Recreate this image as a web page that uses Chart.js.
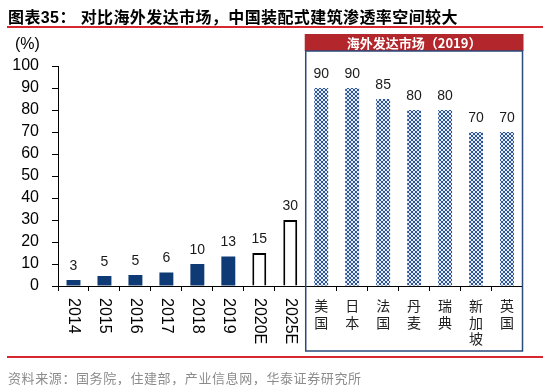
<!DOCTYPE html>
<html>
<head>
<meta charset="utf-8">
<title>海外发达市场对比</title>
<script src="https://cdn.jsdelivr.net/npm/chart.js@4.4.0/dist/chart.umd.min.js"></script>
<style>
  body { margin: 0; background: #fff; }
  #wrap { position: relative; width: 550px; height: 391px; overflow: hidden; }
  canvas { position: absolute; left: 0; top: 0; }
  #title { position: absolute; left: 8px; top: 4px; font: bold 16px "Liberation Sans", Arial, "Noto Sans CJK SC"; color: #000; white-space: nowrap; letter-spacing: 0.4px; }
  .redline { position: absolute; left: 7px; width: 536px; height: 2px; background: #d7282f; }
  #unit { position: absolute; left: 15px; top: 35px; font: 16px "Liberation Sans", Arial; color: #000; }
  #source { position: absolute; left: 8px; top: 368px; font: 13px "Noto Sans CJK SC"; color: #8c8c8c; letter-spacing: 0.6px; white-space: nowrap; }
</style>
</head>
<body>
<div id="wrap">
  <canvas id="canvas" width="550" height="391"></canvas>
  <div id="title">图表35：&nbsp;对比海外发达市场，中国装配式建筑渗透率空间较大</div>
  <div class="redline" style="top:26px"></div>
  <div id="unit">(%)</div>
  <div class="redline" style="top:356px"></div>
  <div id="source">资料来源：国务院，住建部，产业信息网，华泰证券研究所</div>
</div>

<script>
  // China: actual + forecast
  const years = ['2014', '2015', '2016', '2017', '2018', '2019', '2020E', '2025E'];
  const yearValues = [2.7, 4.6, 5, 6.1, 10, 13.4, 15, 30];
  const yearLabels = [3, 5, 5, 6, 10, 13, 15, 30];
  const actualCount = 6; // solid bars, rest are forecasts

  // overseas markets (2019)
  const countries = ['美国', '日本', '法国', '丹麦', '瑞典', '新加坡', '英国'];
  const countryValues = [90, 90, 85, 80, 80, 70, 70];

  const yMax = 100;
  const yStep = 10;

  const navy = '#0e3a75';

  // small blue cross-hatch tile for the overseas bars
  function makePattern() {
    const c = document.createElement('canvas');
    c.width = 4; c.height = 4;
    const g = c.getContext('2d');
    g.fillStyle = '#e4ebf6';
    g.fillRect(0, 0, 4, 4);
    g.fillStyle = '#2d5699';
    [[0, 0], [1, 1], [2, 2], [3, 3], [3, 0], [2, 1], [1, 2], [0, 3]].forEach(function (p) {
      g.fillRect(p[0], p[1], 1, 1);
    });
    return g.createPattern(c, 'repeat');
  }
  const hatch = makePattern();

  const labels = years.concat(countries);
  const values = yearValues.concat(countryValues);
  const shown = yearLabels.concat(countryValues);

  const fills = years.map((y, i) => i < actualCount ? navy : '#ffffff')
    .concat(countries.map(() => hatch));
  const borders = years.map((y, i) => i < actualCount ? navy : '#000000')
    .concat(countries.map(() => 'rgba(0,0,0,0)'));
  const borderWidths = years.map((y, i) => i < actualCount ? 0 : 2)
    .concat(countries.map(() => 0));

  // framed panel for the overseas markets
  const panel = {
    id: 'panel',
    beforeDatasetsDraw(chart) {
      const ctx = chart.ctx, x = chart.scales.x;
      const left = (x.getPixelForValue(years.length - 1) + x.getPixelForValue(years.length)) / 2;
      const right = chart.chartArea.right;
      ctx.save();
      ctx.fillStyle = '#b3262b';
      ctx.fillRect(left - 1, 34, right - left + 2, 17);
      ctx.strokeStyle = '#2b4a7c';
      ctx.lineWidth = 1.5;
      ctx.strokeRect(left, 51, right - left, 300);
      ctx.fillStyle = '#fff';
      ctx.font = 'bold 13px "Noto Sans CJK SC"';
      ctx.textAlign = 'center';
      ctx.textBaseline = 'middle';
      ctx.fillText('海外发达市场（2019）', (left + right) / 2, 43);
      ctx.restore();
    }
  };

  // value labels over bars
  const valueLabels = {
    id: 'valueLabels',
    afterDatasetsDraw(chart) {
      const ctx = chart.ctx;
      const meta = chart.getDatasetMeta(0);
      ctx.save();
      ctx.font = '14px "Liberation Sans", Arial';
      ctx.fillStyle = '#1a1a1a';
      ctx.textAlign = 'center';
      ctx.textBaseline = 'bottom';
      meta.data.forEach(function (bar, i) {
        ctx.fillText(String(shown[i]), bar.x, bar.y - 7);
      });
      ctx.restore();
    }
  };

  // years read top to bottom, so they are drawn turned clockwise
  const yearTicks = {
    id: 'yearTicks',
    afterDraw(chart) {
      const ctx = chart.ctx, x = chart.scales.x;
      ctx.save();
      ctx.font = '16px "Liberation Sans", Arial';
      ctx.fillStyle = '#000';
      ctx.textAlign = 'left';
      ctx.textBaseline = 'middle';
      years.forEach(function (yr, i) {
        ctx.save();
        ctx.translate(x.getPixelForValue(i), x.top + 12);
        ctx.rotate(Math.PI / 2);
        ctx.fillText(yr, 0, 0);
        ctx.restore();
      });
      ctx.restore();
    }
  };

  new Chart(document.getElementById('canvas'), {
    type: 'bar',
    data: {
      labels: labels,
      datasets: [{
        data: values,
        backgroundColor: fills,
        borderColor: borders,
        borderWidth: borderWidths,
        barPercentage: 0.45,
        categoryPercentage: 1
      }]
    },
    options: {
      responsive: false,
      animation: false,
      layout: { padding: { top: 66, right: 27.5, left: 0, bottom: 0 } },
      plugins: { legend: { display: false }, tooltip: { enabled: false } },
      scales: {
        x: {
          grid: { drawOnChartArea: false, tickLength: 5, color: '#000' },
          border: { color: '#000' },
          ticks: {
            autoSkip: false,
            minRotation: 0,
            maxRotation: 0,
            padding: 6,
            color: '#222',
            font: { size: 14, family: '"Noto Sans CJK SC"' },
            callback: function (val, i) {
              return i < years.length ? '' : countries[i - years.length].split('');
            }
          },
          afterFit: function (s) { s.height = 105; }
        },
        y: {
          min: 0,
          max: yMax,
          ticks: {
            stepSize: yStep,
            autoSkip: false,
            padding: 13,
            color: '#000',
            font: { size: 16, family: '"Liberation Sans", Arial' }
          },
          grid: { drawOnChartArea: false, tickLength: 6, color: '#000' },
          border: { color: '#000' },
          afterFit: function (s) { s.width = 58; }
        }
      }
    },
    plugins: [panel, valueLabels, yearTicks]
  });
</script>
</body>
</html>
